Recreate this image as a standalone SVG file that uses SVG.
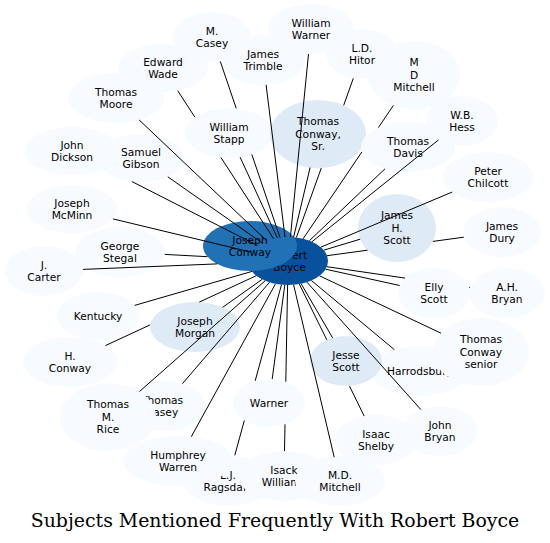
<svg xmlns="http://www.w3.org/2000/svg" width="550" height="543" viewBox="0 0 550 543">
<style>
.n0{fill:#f7fbff}
.n1{fill:#deebf7}
.nj{fill:#2171b5}
.nb{fill:#08519c}
.l{font-family:"DejaVu Sans","Noto Sans",sans-serif;font-size:10.67px;text-anchor:middle;fill:#000}
#connectors path{fill:none;stroke:#000;stroke-width:1}
.title{font-family:"DejaVu Serif","Liberation Serif",serif;font-size:18.9px;text-anchor:middle;fill:#000}
</style>
<rect width="550" height="543" fill="#fff"/>
<g id="nodes">
<g id="n-robert-boyce"><ellipse class="nb" cx="288" cy="261" rx="40" ry="24"/><text class="l"><tspan x="289.5" y="258.5">Robert</tspan><tspan x="289.5" y="270.8">Boyce</tspan></text></g>
<g id="n-joseph-conway"><ellipse class="nj" cx="250" cy="246" rx="47" ry="25"/><text class="l"><tspan x="250" y="243.5">Joseph</tspan><tspan x="250" y="255.8">Conway</tspan></text></g>
<g id="n-m-casey"><ellipse class="n0" cx="212" cy="37" rx="39" ry="25"/><text class="l"><tspan x="212" y="34.5">M.</tspan><tspan x="212" y="46.8">Casey</tspan></text></g>
<g id="n-william-warner"><ellipse class="n0" cx="311" cy="29" rx="43" ry="25"/><text class="l"><tspan x="311" y="26.5">William</tspan><tspan x="311" y="38.8">Warner</tspan></text></g>
<g id="n-edward-wade"><ellipse class="n0" cx="163" cy="68" rx="45" ry="24"/><text class="l"><tspan x="163" y="65.5">Edward</tspan><tspan x="163" y="77.8">Wade</tspan></text></g>
<g id="n-james-trimble"><ellipse class="n0" cx="263" cy="60" rx="42" ry="25"/><text class="l"><tspan x="263" y="57.5">James</tspan><tspan x="263" y="69.8">Trimble</tspan></text></g>
<g id="n-m-d-mitchell"><ellipse class="n0" cx="414" cy="75" rx="46" ry="34"/><text class="l"><tspan x="414" y="66.4">M</tspan><tspan x="414" y="78.7">D</tspan><tspan x="414" y="91">Mitchell</tspan></text></g>
<g id="n-ld-hitor"><ellipse class="n0" cx="362" cy="54" rx="36" ry="25"/><text class="l"><tspan x="362" y="51.5">L.D.</tspan><tspan x="362" y="63.8">Hitor</tspan></text></g>
<g id="n-thomas-moore"><ellipse class="n0" cx="116" cy="98" rx="48" ry="25"/><text class="l"><tspan x="116" y="95.5">Thomas</tspan><tspan x="116" y="107.8">Moore</tspan></text></g>
<g id="n-william-stapp"><ellipse class="n0" cx="229" cy="133" rx="44" ry="25"/><text class="l"><tspan x="229" y="130.5">William</tspan><tspan x="229" y="142.8">Stapp</tspan></text></g>
<g id="n-thomas-conway-sr"><ellipse class="n1" cx="318" cy="134" rx="48" ry="34"/><text class="l"><tspan x="318" y="125.4">Thomas</tspan><tspan x="318" y="137.7">Conway,</tspan><tspan x="318" y="150">Sr.</tspan></text></g>
<g id="n-thomas-davis"><ellipse class="n0" cx="408" cy="147" rx="47" ry="25"/><text class="l"><tspan x="408" y="144.5">Thomas</tspan><tspan x="408" y="156.8">Davis</tspan></text></g>
<g id="n-wb-hess"><ellipse class="n0" cx="462" cy="121" rx="36" ry="25"/><text class="l"><tspan x="462" y="118.5">W.B.</tspan><tspan x="462" y="130.8">Hess</tspan></text></g>
<g id="n-john-dickson"><ellipse class="n0" cx="72" cy="151" rx="47" ry="24"/><text class="l"><tspan x="72" y="148.5">John</tspan><tspan x="72" y="160.8">Dickson</tspan></text></g>
<g id="n-samuel-gibson"><ellipse class="n0" cx="141" cy="158" rx="43" ry="24"/><text class="l"><tspan x="141" y="155.5">Samuel</tspan><tspan x="141" y="167.8">Gibson</tspan></text></g>
<g id="n-peter-chilcott"><ellipse class="n0" cx="488" cy="177" rx="45" ry="25"/><text class="l"><tspan x="488" y="174.5">Peter</tspan><tspan x="488" y="186.8">Chilcott</tspan></text></g>
<g id="n-joseph-mcminn"><ellipse class="n0" cx="72" cy="209" rx="45" ry="24"/><text class="l"><tspan x="72" y="206.5">Joseph</tspan><tspan x="72" y="218.8">McMinn</tspan></text></g>
<g id="n-james-h-scott"><ellipse class="n1" cx="397" cy="228" rx="39" ry="34"/><text class="l"><tspan x="397" y="219.4">James</tspan><tspan x="397" y="231.7">H.</tspan><tspan x="397" y="244">Scott</tspan></text></g>
<g id="n-james-dury"><ellipse class="n0" cx="502" cy="232" rx="39" ry="25"/><text class="l"><tspan x="502" y="229.5">James</tspan><tspan x="502" y="241.8">Dury</tspan></text></g>
<g id="n-george-stegal"><ellipse class="n0" cx="120" cy="252" rx="45" ry="25"/><text class="l"><tspan x="120" y="249.5">George</tspan><tspan x="120" y="261.8">Stegal</tspan></text></g>
<g id="n-j-carter"><ellipse class="n0" cx="44" cy="271" rx="39" ry="25"/><text class="l"><tspan x="44" y="268.5">J.</tspan><tspan x="44" y="280.8">Carter</tspan></text></g>
<g id="n-elly-scott"><ellipse class="n0" cx="434" cy="293" rx="36" ry="25"/><text class="l"><tspan x="434" y="290.5">Elly</tspan><tspan x="434" y="302.8">Scott</tspan></text></g>
<g id="n-ah-bryan"><ellipse class="n0" cx="507" cy="293" rx="38" ry="25"/><text class="l"><tspan x="507" y="290.5">A.H.</tspan><tspan x="507" y="302.8">Bryan</tspan></text></g>
<g id="n-kentucky"><ellipse class="n0" cx="98" cy="316" rx="41" ry="24"/><text class="l" x="98" y="319.7">Kentucky</text></g>
<g id="n-joseph-morgan"><ellipse class="n1" cx="195" cy="327" rx="45" ry="25"/><text class="l"><tspan x="195" y="324.5">Joseph</tspan><tspan x="195" y="336.8">Morgan</tspan></text></g>
<g id="n-harrodsburg"><ellipse class="n0" cx="420" cy="371" rx="49" ry="25"/><text class="l" x="420" y="374.7">Harrodsburg</text></g>
<g id="n-thomas-conway-senior"><ellipse class="n0" cx="481" cy="352" rx="48" ry="34"/><text class="l"><tspan x="481" y="343.4">Thomas</tspan><tspan x="481" y="355.7">Conway</tspan><tspan x="481" y="368">senior</tspan></text></g>
<g id="n-h-conway"><ellipse class="n0" cx="70" cy="362" rx="47" ry="25"/><text class="l"><tspan x="70" y="359.5">H.</tspan><tspan x="70" y="371.8">Conway</tspan></text></g>
<g id="n-jesse-scott"><ellipse class="n1" cx="346" cy="361" rx="36" ry="25"/><text class="l"><tspan x="346" y="358.5">Jesse</tspan><tspan x="346" y="370.8">Scott</tspan></text></g>
<g id="n-thomas-casey"><ellipse class="n0" cx="163" cy="406" rx="43" ry="25"/><text class="l"><tspan x="162" y="403.5">Thomas</tspan><tspan x="162" y="415.8">Casey</tspan></text></g>
<g id="n-thomas-m-rice"><ellipse class="n0" cx="108" cy="417" rx="48" ry="34"/><text class="l"><tspan x="108" y="408.4">Thomas</tspan><tspan x="108" y="420.7">M.</tspan><tspan x="108" y="433">Rice</tspan></text></g>
<g id="n-warner"><ellipse class="n0" cx="269" cy="403" rx="36" ry="24"/><text class="l" x="269" y="406.7">Warner</text></g>
<g id="n-lj-ragsdale"><ellipse class="n0" cx="228" cy="481" rx="45" ry="25"/><text class="l"><tspan x="228" y="478.5">L.J.</tspan><tspan x="228" y="490.8">Ragsdale</tspan></text></g>
<g id="n-humphrey-warren"><ellipse class="n0" cx="178" cy="461" rx="55" ry="25"/><text class="l"><tspan x="178" y="458.5">Humphrey</tspan><tspan x="178" y="470.8">Warren</tspan></text></g>
<g id="n-isaac-shelby"><ellipse class="n0" cx="376" cy="440" rx="41" ry="25"/><text class="l"><tspan x="376" y="437.5">Isaac</tspan><tspan x="376" y="449.8">Shelby</tspan></text></g>
<g id="n-john-bryan"><ellipse class="n0" cx="440" cy="431" rx="37" ry="25"/><text class="l"><tspan x="440" y="428.5">John</tspan><tspan x="440" y="440.8">Bryan</tspan></text></g>
<g id="n-isack-williams"><ellipse class="n0" cx="284" cy="476" rx="46" ry="25"/><text class="l"><tspan x="284" y="473.5">Isack</tspan><tspan x="284" y="485.8">Williams</tspan></text></g>
<g id="n-md-mitchell"><ellipse class="n0" cx="340" cy="481" rx="45" ry="25"/><text class="l"><tspan x="340" y="478.5">M.D.</tspan><tspan x="340" y="490.8">Mitchell</tspan></text></g>
</g>
<g id="connectors">
<path id="e-m-casey" d="M220.3,61.4L236.2,108.3M251.8,154.4L280,237.5"/>
<path id="e-william-warner" d="M308.5,54L290.4,237"/>
<path id="e-edward-wade" d="M177.7,90.7L194.9,117.2M221,157.6L273.5,238.6"/>
<path id="e-james-trimble" d="M266.1,84.9L285,237.1"/>
<path id="e-ld-hitor" d="M353.3,78.3L343.7,105.3M321.3,168L296.4,237.5"/>
<path id="e-m-d-mitchell" d="M393.4,105.4L378.4,127.6M361.9,151.9L303.1,238.8"/>
<path id="e-thomas-moore" d="M139.1,119.9L266.6,240.7"/>
<path id="e-william-stapp" d="M240.1,157.2L277.3,237.9"/>
<path id="e-thomas-conway-sr" d="M310.1,167.5L293.6,237.2"/>
<path id="e-thomas-davis" d="M385,168.8L309.4,240.7"/>
<path id="e-wb-hess" d="M438.5,139.9L311.9,241.8"/>
<path id="e-john-dickson" d="M131.8,181.5L257.5,245.5"/>
<path id="e-samuel-gibson" d="M167.8,176.8L262,242.8"/>
<path id="e-peter-chilcott" d="M452.1,192.1L320.8,247.2"/>
<path id="e-joseph-mcminn" d="M113,218.9L250.9,252.1"/>
<path id="e-james-h-scott" d="M360.2,239.2L323.7,250.2"/>
<path id="e-james-dury" d="M463.8,237.2L432.9,241.4M367.5,250.2L327,255.7"/>
<path id="e-george-stegal" d="M164.8,254.4L207.5,256.7"/>
<path id="e-j-carter" d="M82.9,269.4L217.1,263.9"/>
<path id="e-elly-scott" d="M399.7,285.5L325.6,269.2"/>
<path id="e-ah-bryan" d="M469.9,287.6L469.1,287.5M405.1,278.1L326.9,266.7"/>
<path id="e-kentucky" d="M134.7,305.4L252,271.4"/>
<path id="e-joseph-morgan" d="M222.7,307.3L262.2,279.3"/>
<path id="e-thomas-conway-senior" d="M441,333.2L319.5,275.8"/>
<path id="e-h-conway" d="M105.4,345.6L150.1,324.9M199.3,302.1L256.3,275.7"/>
<path id="e-jesse-scott" d="M332.6,337.8L301.1,283.7"/>
<path id="e-harrodsburg" d="M394.4,349.7L311.4,280.5"/>
<path id="e-thomas-m-rice" d="M139.5,391.5L265.2,280.7"/>
<path id="e-thomas-casey" d="M182.4,383.7L269.5,282.3"/>
<path id="e-warner" d="M272.2,379.1L284.8,284.9"/>
<path id="e-humphrey-warren" d="M191.3,436.7L275.5,283.8"/>
<path id="e-isaac-shelby" d="M364.2,416.1L349.4,385.9M326.8,339.8L299.3,284"/>
<path id="e-john-bryan" d="M420.9,409.6L306.9,282.1"/>
<path id="e-lj-ragsdale" d="M234.8,455.3L244.3,420.5M255.2,380.8L281.5,284.7"/>
<path id="e-isack-williams" d="M284.5,451L285,424.3M285.8,381.7L287.6,285"/>
<path id="e-md-mitchell" d="M334.2,457.2L293.6,284.8"/>
</g>
<text class="title" x="275" y="527">Subjects Mentioned Frequently With Robert Boyce</text>
</svg>
